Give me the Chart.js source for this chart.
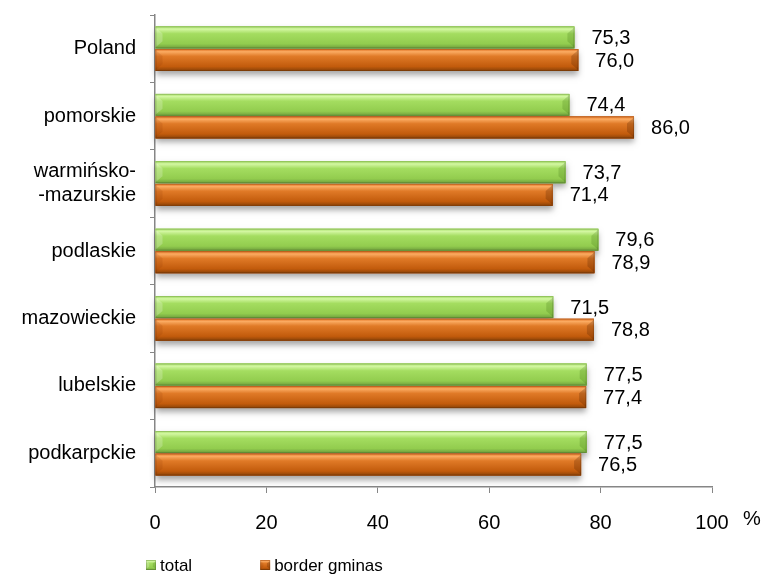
<!DOCTYPE html>
<html>
<head>
<meta charset="utf-8">
<script src="https://cdn.jsdelivr.net/npm/chart.js@4/dist/chart.umd.min.js"></script>
<style>
html, body { margin:0; padding:0; background:#fff; }
#box { width:768px; height:575px; }
</style>
</head>
<body>
<div id="box"><canvas id="chart"></canvas></div>
<script>

/* DATA */

const regions = ["Poland", "pomorskie", ["warmińsko-", "-mazurskie"], "podlaskie", "mazowieckie", "lubelskie", "podkarpckie"];

const totalValues = [75.3, 74.4, 73.7, 79.6, 71.5, 77.5, 77.5];

const borderValues = [76.0, 86.0, 71.4, 78.9, 78.8, 77.4, 76.5];

const xTicks = [0, 20, 40, 60, 80, 100];

const seriesNames = ["total", "border gminas"];

const FONT = "'Liberation Sans', Arial, sans-serif";


/* BAR LOOK */

const looks = [
{ base:"#94d050", stops:[[0,"#a6e066"],[0.12,"#d3f7a2"],[0.33,"#a4dd60"],[0.8,"#92cc4e"],[1,"#6f9f3d"]], leftBevel:"rgba(255,255,255,0.22)", rightBevel:"rgba(40,90,0,0.18)" },
{ base:"#c55a11", stops:[[0,"#e2701f"],[0.12,"#fbab62"],[0.33,"#e07a27"],[0.8,"#c25b0c"],[1,"#8a4208"]], leftBevel:"rgba(120,40,0,0.12)", rightBevel:"rgba(80,30,0,0.25)" }
];

function makeGradient(ctx, top, bottom, look){
const g = ctx.createLinearGradient(0, top, 0, bottom);
look.stops.forEach(s => g.addColorStop(s[0], s[1]));
return g;
}

function drawBar(ctx, left, top, w, h, look, shadow){
if(w <= 0) return;
const right = left + w;
const bottom = top + h;
if(shadow){
ctx.save();
ctx.shadowColor = "rgba(0,0,0,0.35)";
ctx.shadowBlur = 6;
ctx.shadowOffsetY = 4;
ctx.fillStyle = look.base;
ctx.fillRect(left, top, w, h);
ctx.restore();
}
ctx.fillStyle = makeGradient(ctx, top, bottom, look);
ctx.fillRect(left, top, w, h);
const b = Math.min(h * 0.32, w / 2);
// left end bevel
ctx.fillStyle = look.leftBevel;
ctx.beginPath();
ctx.moveTo(left, top + 1);
ctx.lineTo(left + b, top + b);
ctx.lineTo(left + b, bottom - b);
ctx.lineTo(left, bottom - 1);
ctx.closePath();
ctx.fill();
// right end bevel
ctx.fillStyle = look.rightBevel;
ctx.beginPath();
ctx.moveTo(right, top + 1);
ctx.lineTo(right - b, top + b);
ctx.lineTo(right - b, bottom - b);
ctx.lineTo(right, bottom - 1);
ctx.closePath();
ctx.fill();
ctx.strokeStyle = "rgba(0,0,0,0.15)";
ctx.lineWidth = 1;
ctx.strokeRect(left + 0.5, top + 0.5, w - 1, h - 1);
}


/* PLUGIN: 3D bars, value labels, % sign, legend */

const barStyle = {
id:"barStyle",
afterDatasetsDraw(chart){
const ctx = chart.ctx;
chart.data.datasets.forEach((ds, di) => {
const meta = chart.getDatasetMeta(di);
meta.data.forEach(bar => {
const p = bar.getProps(["x","y","base","height"], true);
const left = Math.min(p.base, p.x);
const w = Math.abs(p.x - p.base);
drawBar(ctx, left, p.y - p.height / 2, w, p.height, looks[di], true);
});
});
ctx.save();
ctx.font = "20px " + FONT;
ctx.fillStyle = "#000";
ctx.textAlign = "left";
ctx.textBaseline = "middle";
chart.data.datasets.forEach((ds, di) => {
const meta = chart.getDatasetMeta(di);
meta.data.forEach((bar, i) => {
const txt = ds.data[i].toFixed(1).replace(".", ",");
ctx.fillText(txt, bar.x + 17, bar.y + 1);
});
});
ctx.restore();
},
afterDraw(chart){
const ctx = chart.ctx;
const xs = chart.scales.x;
ctx.save();
ctx.font = "20px " + FONT;
ctx.fillStyle = "#000";
ctx.textAlign = "left";
ctx.textBaseline = "middle";
ctx.fillText("%", xs.getPixelForValue(100) + 31, xs.top + 32);

// legend
ctx.font = "17px " + FONT;
let x = 146;
const y = 565;
seriesNames.forEach((name, i) => {
drawBar(ctx, x, y - 5, 10, 10, looks[i], false);
ctx.fillStyle = "#000";
ctx.fillText(name, x + 14, y + 1);
x += 14 + ctx.measureText(name).width + 68;
});
ctx.restore();
}
};


/* CHART */

function loadChart(){

const ctx = document.getElementById("chart");

if(!ctx) return;

Chart.defaults.font.family = FONT;

new Chart(ctx,{

type:"bar",

data:{

labels:regions,

datasets:[
{ label:seriesNames[0], data:totalValues, backgroundColor:looks[0].base },
{ label:seriesNames[1], data:borderValues, backgroundColor:looks[1].base }
]

},

plugins:[barStyle],

options:{
indexAxis:"y",
responsive:true,
maintainAspectRatio:false,
animation:false,
layout:{ padding:{ top:15, right:56, bottom:40, left:0 } },
plugins:{
legend:{ display:false },
tooltip:{ enabled:false }
},
datasets:{
bar:{ categoryPercentage:0.67, barPercentage:0.97 }
},
scales:{
x:{
min:0,
max:100,
afterBuildTicks(scale){
scale.ticks = xTicks.map(v => ({ value:v }));
},
afterFit(scale){
scale.height = 48;
scale.paddingLeft = 0;
scale.paddingRight = 0;
},
grid:{ drawOnChartArea:false, tickLength:6, color:"#868686" },
border:{ color:"#868686", width:1.5 },
ticks:{ color:"#000", font:{ size:20 }, padding:18 }
},
y:{
afterFit(scale){
scale.width = 155;
scale.paddingTop = 0;
scale.paddingBottom = 0;
},
grid:{ drawOnChartArea:false, tickLength:5, color:"#868686" },
border:{ color:"#868686", width:1.5 },
ticks:{ color:"#000", font:{ size:20 }, padding:14 }
}
}
}

});

}

loadChart();

</script>
</body>
</html>
